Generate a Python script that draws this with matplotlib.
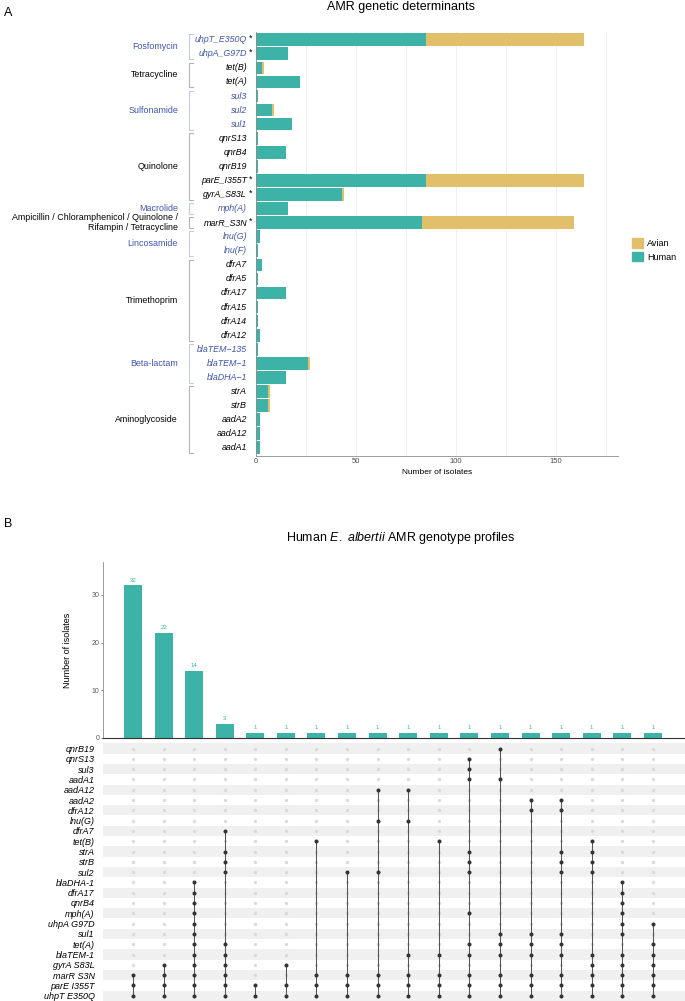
import matplotlib
matplotlib.use("Agg")
import matplotlib.pyplot as plt
import matplotlib.transforms as mtransforms
from matplotlib.lines import Line2D
from matplotlib.patches import Patch

plt.rcParams["font.family"] = ["Liberation Sans", "DejaVu Sans"]
plt.rcParams["mathtext.fontset"] = "custom"
plt.rcParams["mathtext.rm"] = "Liberation Sans"
plt.rcParams["mathtext.it"] = "Liberation Sans:italic"

# ---------------------------------------------------------------- data, panel A
genes_a = ["uhpT_E350Q", "uhpA_G97D", "tet(B)", "tet(A)", "sul3", "sul2", "sul1",
           "qnrS13", "qnrB4", "qnrB19", "parE_I355T", "gyrA_S83L", "mph(A)",
           "marR_S3N", "lnu(G)", "lnu(F)", "dfrA7", "dfrA5", "dfrA17", "dfrA15",
           "dfrA14", "dfrA12", "blaTEM\u2212135", "blaTEM\u22121", "blaDHA\u22121",
           "strA", "strB", "aadA2", "aadA12", "aadA1"]
human_a = [85, 16, 3, 22, 1, 8, 18, 1, 15, 1, 85, 43, 16, 83, 2, 1, 3, 1, 15, 1,
           1, 2, 1, 26, 15, 6, 6, 2, 2, 2]
avian_a = [79, 0, 1, 0, 0, 1, 0, 0, 0, 0, 79, 1, 0, 76, 0, 0, 0, 0, 0, 0,
           0, 0, 0, 1, 0, 1, 1, 0, 0, 0]
starred = ["uhpT_E350Q", "uhpA_G97D", "parE_I355T", "gyrA_S83L", "marR_S3N"]

class_names = ["Fosfomycin", "Tetracycline", "Sulfonamide", "Quinolone", "Macrolide",
               "Ampicillin / Chloramphenicol / Quinolone /\nRifampin / Tetracycline",
               "Lincosamide", "Trimethoprim", "Beta-lactam", "Aminoglycoside"]
class_sizes = [2, 2, 3, 5, 1, 1, 2, 6, 3, 5]

# ---------------------------------------------------------------- data, panel B
rows_b = ["qnrB19", "qnrS13", "sul3", "aadA1", "aadA12", "aadA2", "dfrA12", "lnu(G)",
          "dfrA7", "tet(B)", "strA", "strB", "sul2", "blaDHA-1", "dfrA17", "qnrB4",
          "mph(A)", "uhpA G97D", "sul1", "tet(A)", "blaTEM-1", "gyrA S83L",
          "marR S3N", "parE I355T", "uhpT E350Q"]
counts_b = [32, 22, 14, 3, 1, 1, 1, 1, 1, 1, 1, 1, 1, 1, 1, 1, 1, 1]
profiles_b = [
    ["marR S3N", "parE I355T", "uhpT E350Q"],
    ["gyrA S83L", "marR S3N", "parE I355T", "uhpT E350Q"],
    ["blaDHA-1", "dfrA17", "qnrB4", "mph(A)", "uhpA G97D", "sul1", "tet(A)", "blaTEM-1",
     "gyrA S83L", "marR S3N", "parE I355T", "uhpT E350Q"],
    ["dfrA7", "strA", "strB", "sul2", "tet(A)", "blaTEM-1", "gyrA S83L", "marR S3N",
     "parE I355T", "uhpT E350Q"],
    ["parE I355T", "uhpT E350Q"],
    ["gyrA S83L", "parE I355T", "uhpT E350Q"],
    ["tet(B)", "marR S3N", "parE I355T", "uhpT E350Q"],
    ["sul2", "marR S3N", "parE I355T", "uhpT E350Q"],
    ["aadA12", "lnu(G)", "sul2", "marR S3N", "parE I355T", "uhpT E350Q"],
    ["aadA12", "lnu(G)", "blaTEM-1", "marR S3N", "parE I355T", "uhpT E350Q"],
    ["tet(B)", "blaTEM-1", "marR S3N", "parE I355T", "uhpT E350Q"],
    ["qnrS13", "sul3", "aadA1", "strA", "strB", "sul2", "mph(A)", "tet(A)", "blaTEM-1",
     "marR S3N", "parE I355T", "uhpT E350Q"],
    ["qnrB19", "aadA1", "sul1", "tet(A)", "blaTEM-1", "marR S3N", "parE I355T",
     "uhpT E350Q"],
    ["aadA2", "dfrA12", "sul1", "tet(A)", "blaTEM-1", "marR S3N", "parE I355T",
     "uhpT E350Q"],
    ["aadA2", "dfrA12", "strA", "strB", "sul2", "sul1", "tet(A)", "blaTEM-1",
     "marR S3N", "parE I355T", "uhpT E350Q"],
    ["tet(B)", "strA", "strB", "sul2", "blaTEM-1", "gyrA S83L", "marR S3N",
     "parE I355T", "uhpT E350Q"],
    ["blaDHA-1", "dfrA17", "qnrB4", "mph(A)", "uhpA G97D", "sul1", "blaTEM-1",
     "gyrA S83L", "marR S3N", "parE I355T", "uhpT E350Q"],
    ["uhpA G97D", "tet(A)", "blaTEM-1", "gyrA S83L", "marR S3N", "parE I355T",
     "uhpT E350Q"],
]

teal = "#3db2a6"
gold = "#e2bf6b"
blue = "#3f55b3"
W, H = 685, 1001


def fx(px):
    return px / W


def fy(py):
    return 1 - py / H


fig = plt.figure(figsize=(W / 100, H / 100), dpi=100)

# ---------------------------------------------------------------- panel A
axA = fig.add_axes([fx(256), fy(455.5), fx(618) - fx(256), (455.5 - 32) / H])
ya = list(range(len(genes_a)))
axA.barh(ya, human_a, height=0.9, color=teal, zorder=2)
axA.barh(ya, avian_a, left=human_a, height=0.9, color=gold, zorder=2)
axA.set_ylim(29.55, -0.55)
axA.set_xlim(0, 181)
axA.set_yticks([])
axA.set_xticks([0, 50, 100, 150])
axA.set_xticks([25, 75, 125, 175], minor=True)
axA.grid(axis="x", which="both", color="#ececec", lw=0.6, zorder=0)
axA.tick_params(axis="x", which="both", length=0, labelsize=5.5, colors="#4d4d4d", pad=2)
axA.set_xlabel("Number of isolates", fontsize=6, labelpad=3)
for s in ["top", "right"]:
    axA.spines[s].set_visible(False)
for s in ["left", "bottom"]:
    axA.spines[s].set_color("#8c8c8c")
    axA.spines[s].set_linewidth(0.6)

tr = mtransforms.blended_transform_factory(fig.transFigure, axA.transData)
start = 0
for k, (name, size) in enumerate(zip(class_names, class_sizes)):
    col = blue if k % 2 == 0 else "black"
    bcol = "#c4cae9" if k % 2 == 0 else "#b3b3b3"
    end = start + size - 1
    for i in range(start, end + 1):
        axA.text(fx(247), i, genes_a[i], transform=tr, ha="right", va="center",
                 fontsize=6.4, style="italic", color=col)
        if genes_a[i] in starred:
            axA.text(fx(248.5), i - 0.12, "*", transform=tr, ha="left", va="center",
                     fontsize=6.4, color="black")
    lo, hi = start - 0.38, end + 0.38
    fig.add_artist(Line2D([fx(193), fx(188.5), fx(188.5), fx(193)], [lo, lo, hi, hi],
                          transform=tr, color=bcol, lw=0.8))
    axA.text(fx(178), (start + end) / 2, name, transform=tr, ha="right", va="center",
             fontsize=6.4, color=col, linespacing=1.1, multialignment="right")
    start = end + 1

fig.legend(handles=[Patch(color=gold), Patch(color=teal)], labels=["Avian", "Human"],
           loc="center left", bbox_to_anchor=(fx(624), fy(250)), frameon=False,
           fontsize=6.5, handlelength=1.2, handleheight=1.2, labelspacing=0.45,
           handletextpad=0.5)

fig.text(fx(401), fy(7), "AMR genetic determinants", ha="center", va="center", fontsize=9)
fig.text(fx(4), fy(13), "A", ha="left", va="center", fontsize=9)

# ---------------------------------------------------------------- panel B
xlim_b = (-0.98, 18.05)
axB = fig.add_axes([fx(103), fy(738), 1 - fx(103), (738 - 562) / H])
xb = list(range(len(counts_b)))
axB.bar(xb, counts_b, width=0.59, color=teal, zorder=2)
for x, c in zip(xb, counts_b):
    axB.text(x, c + 0.6, str(c), ha="center", va="bottom", fontsize=4.3, color=teal)
axB.set_xlim(*xlim_b)
axB.set_ylim(0, 36.9)
axB.set_xticks([])
axB.set_yticks([0, 10, 20, 30])
axB.tick_params(axis="y", length=1.5, width=0.5, labelsize=5, colors="#555555", pad=1)
axB.set_ylabel("Number of isolates", fontsize=6.5, labelpad=14)
for s in ["top", "right"]:
    axB.spines[s].set_visible(False)
axB.spines["left"].set_color("#8c8c8c")
axB.spines["left"].set_linewidth(0.6)
axB.spines["bottom"].set_color("#333333")
axB.spines["bottom"].set_linewidth(0.8)

row_px = 10.3
row0 = 748.5
axM = fig.add_axes([fx(103), 0, 1 - fx(103), (1001 - (row0 - row_px / 2)) / H])
axM.set_xlim(*xlim_b)
axM.set_ylim((1001 - row0) / row_px, -0.5)
for i in range(0, len(rows_b), 2):
    axM.axhspan(i - 0.5, i + 0.5, color="#f0f0f0", lw=0, zorder=0)
for j, prof in enumerate(profiles_b):
    idx = [rows_b.index(g) for g in prof]
    empty = [i for i in range(len(rows_b)) if i not in idx]
    axM.scatter([j] * len(empty), empty, s=5.5, color="#d9d9d9", lw=0, zorder=1)
    axM.plot([j, j], [min(idx), max(idx)], color="#555555", lw=0.75, zorder=2)
    axM.scatter([j] * len(idx), idx, s=8.5, color="#333333", lw=0, zorder=3)
axM.set_xticks([])
axM.set_yticks(range(len(rows_b)))
axM.set_yticklabels(rows_b, fontsize=6.5, style="italic")
axM.tick_params(axis="y", length=0, pad=6)
for s in axM.spines.values():
    s.set_visible(False)

fig.text(fx(401), fy(538), r"Human $\mathit{E.\ albertii}$ AMR genotype profiles",
         ha="center", va="center", fontsize=9)
fig.text(fx(4), fy(524), "B", ha="left", va="center", fontsize=9)

fig.savefig("out.png", dpi=100)
